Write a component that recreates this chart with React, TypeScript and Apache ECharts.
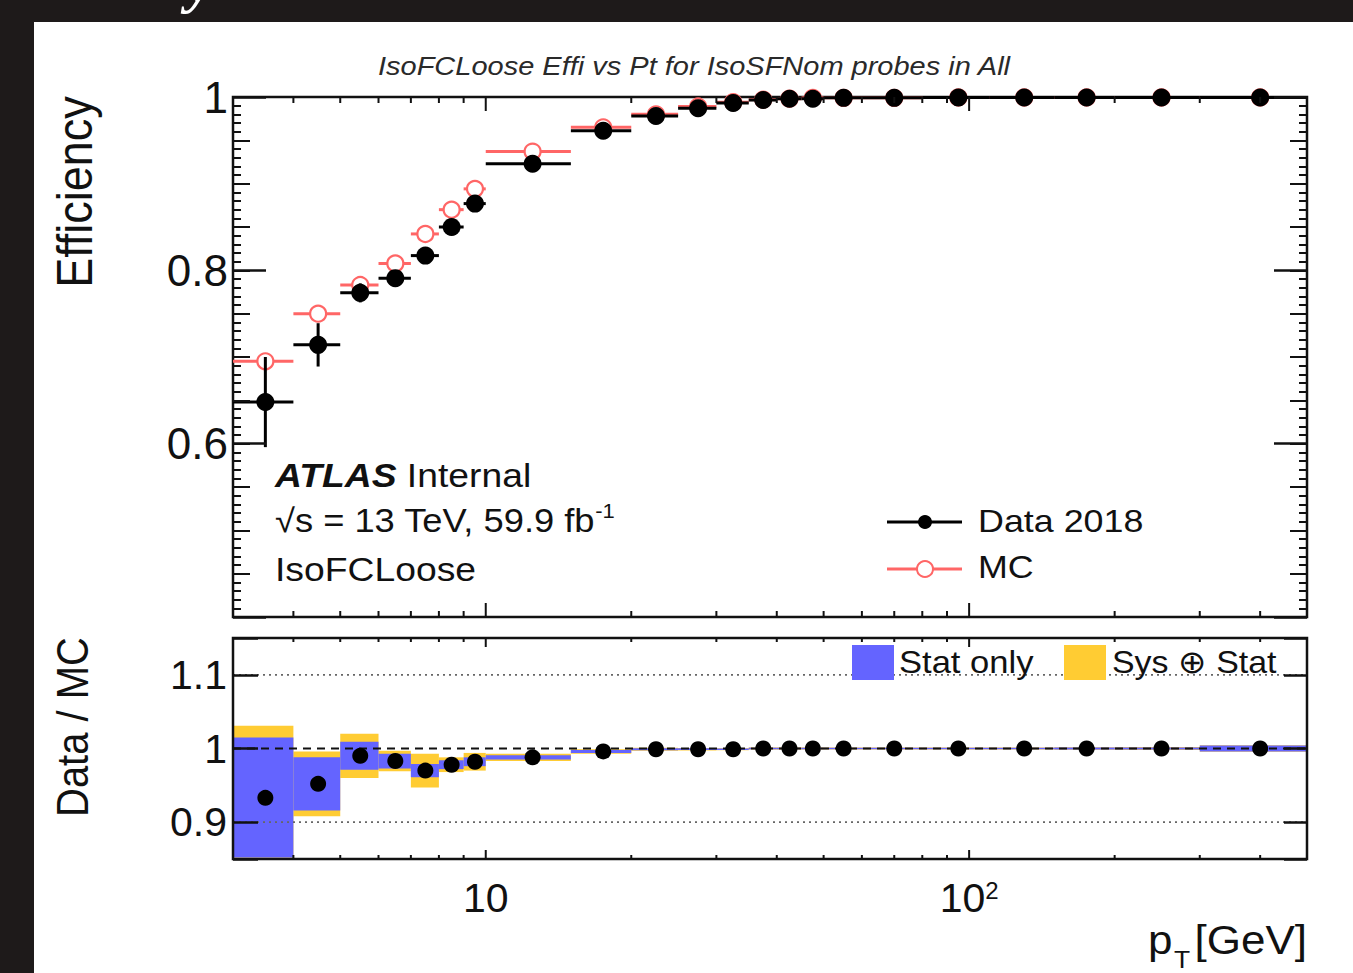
import React, { useEffect, useRef } from "react";
import * as echarts from "echarts";

const FONT = "'Liberation Sans', Arial, Helvetica, sans-serif";
const INK = "#111111";
const RED = "#ff6666";
const BLUE = "#6464ff";
const YELLOW = "#ffcc33";

// ---- data ----
const binEdges = [3, 4, 5, 6, 7, 8, 9, 10, 15, 20, 25, 30, 35, 40, 45, 50, 60, 80, 110, 150, 200, 300, 500];
const dataEff = [0.648, 0.714, 0.774, 0.791, 0.817, 0.85, 0.877, 0.923, 0.961, 0.978, 0.987, 0.993, 0.9965, 0.998, 0.998, 0.999, 0.999, 0.9995, 0.9995, 0.9995, 0.9995, 0.9995];
const dataErr = [0.052, 0.025, 0.011, 0.006, 0.005, 0.004, 0.004, 0.003, 0.002, 0.002, 0.001, 0.001, 0.001, 0.001, 0.001, 0.001, 0.001, 0.001, 0.001, 0.001, 0.001, 0.001];
const mcEff = [0.695, 0.75, 0.783, 0.808, 0.842, 0.87, 0.894, 0.937, 0.965, 0.98, 0.989, 0.994, 0.997, 0.998, 0.999, 0.999, 0.999, 0.9995, 0.9995, 0.9995, 0.9995, 0.9995];
const ratio = [0.933, 0.952, 0.99, 0.983, 0.97, 0.978, 0.982, 0.988, 0.996, 0.999, 0.999, 0.999, 1.0, 1.0, 1.0, 1.0, 1.0, 1.0, 1.0, 1.0, 1.0, 1.0];
const statErr = [0.082, 0.036, 0.019, 0.01, 0.009, 0.006, 0.006, 0.003, 0.002, 0.0015, 0.0012, 0.001, 0.001, 0.001, 0.001, 0.001, 0.001, 0.001, 0.001, 0.0012, 0.0015, 0.004];
const totErr = [0.098, 0.044, 0.03, 0.014, 0.023, 0.01, 0.012, 0.005, 0.003, 0.002, 0.0018, 0.0015, 0.0015, 0.0015, 0.0015, 0.0015, 0.0015, 0.0015, 0.0015, 0.0018, 0.002, 0.0045];
const xMajorTicks = [10, 100];
const xMinorTicks = [4, 5, 6, 7, 8, 9, 20, 30, 40, 50, 60, 70, 80, 90, 200, 300, 400];
const ratioRefLines = [0.9, 1.0, 1.1];
const topYLabels = ["1", "0.8", "0.6"];
const bottomYLabels = ["1.1", "1", "0.9"];

const X_MIN = 3;
const X_MAX = 500;
const TOP_MIN = 0.4;
const TOP_MAX = 1.0;
const BOT_MIN = 0.85;
const BOT_MAX = 1.15;

function buildOption(): any {
  const centers = binEdges.slice(0, -1).map((lo, i) => (lo + binEdges[i + 1]) / 2);
  const dataRows = dataEff.map((v, i) => [binEdges[i], binEdges[i + 1], centers[i], v, dataErr[i]]);
  const mcRows = mcEff.map((v, i) => [binEdges[i], binEdges[i + 1], centers[i], v]);
  const statRows = ratio.map((v, i) => [binEdges[i], binEdges[i + 1], v, statErr[i]]);
  const totRows = ratio.map((v, i) => [binEdges[i], binEdges[i + 1], v, totErr[i]]);
  const ratioRows = ratio.map((v, i) => [centers[i], v]);
  const tickRows = [...xMajorTicks.map((t) => [t, 1]), ...xMinorTicks.map((t) => [t, 0])];
  const refRows = ratioRefLines.map((v) => [X_MIN, v]);

  const fmtLabel = (labels: string[]) => (v: number) => {
    for (const l of labels) if (Math.abs(parseFloat(l) - v) < 1e-6) return l;
    return "";
  };

  const xBase = (g: number) => ({
    type: "log",
    logBase: 10,
    gridIndex: g,
    min: X_MIN,
    max: X_MAX,
    axisLine: { show: false },
    axisTick: { show: false },
    splitLine: { show: false },
    minorTick: { show: false },
    minorSplitLine: { show: false },
  });

  const yBase = (g: number, pos: string, min: number, max: number) => ({
    type: "value",
    gridIndex: g,
    position: pos,
    min,
    max,
    z: 10,
    axisLine: { show: false },
    splitLine: { show: false },
    axisLabel: { show: false },
  });

  const frameRender = (params: any, api: any) => {
    const cs = params.coordSys;
    return {
      type: "rect",
      shape: { x: cs.x, y: cs.y, width: cs.width, height: cs.height },
      style: { fill: "none", stroke: INK, lineWidth: 2.5 },
    };
  };

  const tickRender = (majLen: number, minLen: number) => (params: any, api: any) => {
    const cs = params.coordSys;
    const x = api.coord([api.value(0), api.value(1)])[0];
    const len = api.value(1) ? majLen : minLen;
    const yb = cs.y + cs.height;
    const yt = cs.y;
    return {
      type: "group",
      children: [
        { type: "line", shape: { x1: x, y1: yb, x2: x, y2: yb - len }, style: { stroke: INK, lineWidth: 2 } },
        { type: "line", shape: { x1: x, y1: yt, x2: x, y2: yt + len }, style: { stroke: INK, lineWidth: 2 } },
      ],
    };
  };

  const bandRender = (color: string) => (params: any, api: any) => {
    const lo = api.value(0);
    const hi = api.value(1);
    const r = api.value(2);
    const e = api.value(3);
    const top = Math.min(r + e, BOT_MAX - 0.002);
    const bot = Math.max(r - e, BOT_MIN + 0.002);
    const p1 = api.coord([lo, top]);
    const p2 = api.coord([hi, bot]);
    const h = Math.max(p2[1] - p1[1], 1.6);
    const yc = (p1[1] + p2[1]) / 2;
    return {
      type: "rect",
      shape: { x: p1[0], y: yc - h / 2, width: p2[0] - p1[0], height: h },
      style: { fill: color },
    };
  };

  const txt = (x: number, y: number, text: string, o: any = {}) => ({
    type: "text",
    x,
    y,
    z: 30,
    scaleX: o.sx ?? 1,
    scaleY: o.sy ?? 1,
    rotation: o.rot ?? 0,
    style: {
      text,
      fill: o.fill ?? INK,
      fontSize: o.size,
      fontFamily: o.family ?? FONT,
      fontStyle: o.italic ? "italic" : "normal",
      fontWeight: o.bold ? "bold" : "normal",
      align: o.align ?? "left",
      textAlign: o.align ?? "left",
      verticalAlign: o.va ?? "middle",
      textVerticalAlign: o.va ?? "middle",
      rich: o.rich,
    },
  });

  const richTok = (size: number, extra: any = {}) => ({
    fontSize: size,
    fontFamily: FONT,
    fill: INK,
    color: INK,
    ...extra,
  });

  return {
    animation: false,
    backgroundColor: "transparent",
    grid: [
      { left: 233, top: 97, width: 1074, height: 520, show: false },
      { left: 233, top: 638, width: 1074, height: 221, show: false },
    ],
    xAxis: [
      { ...xBase(0), axisLabel: { show: false } },
      {
        ...xBase(1),
        axisLabel: {
          show: true,
          margin: 19,
          formatter: (v: number) => {
            if (Math.abs(v - 10) < 1e-6) return "{b|10}";
            if (Math.abs(v - 100) < 1e-4) return "{b|10}{s|2}";
            return "";
          },
          rich: {
            b: { fontSize: 41, lineHeight: 40, fontFamily: FONT, color: INK },
            s: { fontSize: 24, lineHeight: 14, verticalAlign: "top", fontFamily: FONT, color: INK },
          },
        },
      },
    ],
    yAxis: [
      {
        ...yBase(0, "left", TOP_MIN, TOP_MAX),
        interval: 0.2,
        axisTick: { show: true, inside: true, length: 33, lineStyle: { color: INK, width: 2.5 } },
        minorTick: { show: true, splitNumber: 20, length: 8, lineStyle: { color: INK, width: 2 } },
        axisLabel: { show: true, margin: 5, fontSize: 44, fontFamily: FONT, color: INK, formatter: fmtLabel(topYLabels) },
      },
      {
        ...yBase(0, "left", TOP_MIN, TOP_MAX),
        interval: 0.05,
        axisTick: { show: true, inside: true, length: 17, lineStyle: { color: INK, width: 2 } },
      },
      {
        ...yBase(0, "right", TOP_MIN, TOP_MAX),
        interval: 0.2,
        axisTick: { show: true, inside: true, length: 33, lineStyle: { color: INK, width: 2.5 } },
        minorTick: { show: true, splitNumber: 20, length: 8, lineStyle: { color: INK, width: 2 } },
      },
      {
        ...yBase(0, "right", TOP_MIN, TOP_MAX),
        interval: 0.05,
        axisTick: { show: true, inside: true, length: 17, lineStyle: { color: INK, width: 2 } },
      },
      {
        ...yBase(1, "left", BOT_MIN, BOT_MAX),
        splitNumber: 3,
        axisTick: { show: true, inside: true, length: 25, lineStyle: { color: INK, width: 2.5 } },
        axisLabel: { show: true, margin: 6, fontSize: 41, fontFamily: FONT, color: INK, formatter: fmtLabel(bottomYLabels) },
      },
      {
        ...yBase(1, "right", BOT_MIN, BOT_MAX),
        splitNumber: 3,
        axisTick: { show: true, inside: true, length: 23, lineStyle: { color: INK, width: 2.5 } },
      },
    ],
    series: [
      // ---------- top panel ----------
      { type: "custom", name: "topFrame", xAxisIndex: 0, yAxisIndex: 0, z: 2, data: [[X_MIN, TOP_MIN]], renderItem: frameRender, silent: true },
      {
        type: "custom",
        name: "MC",
        xAxisIndex: 0,
        yAxisIndex: 0,
        z: 3,
        data: mcRows,
        renderItem: (params: any, api: any) => {
          const lo = api.value(0), hi = api.value(1), c = api.value(2), v = api.value(3);
          const pl = api.coord([lo, v]), pr = api.coord([hi, v]), pc = api.coord([c, v]);
          return {
            type: "group",
            children: [
              { type: "line", shape: { x1: pl[0], y1: pl[1], x2: pr[0], y2: pr[1] }, style: { stroke: RED, lineWidth: 3 } },
              { type: "circle", shape: { cx: pc[0], cy: pc[1], r: 8 }, style: { fill: "#ffffff", stroke: RED, lineWidth: 2.2 } },
            ],
          };
        },
      },
      {
        type: "custom",
        name: "Data 2018",
        xAxisIndex: 0,
        yAxisIndex: 0,
        z: 4,
        data: dataRows,
        renderItem: (params: any, api: any) => {
          const lo = api.value(0), hi = api.value(1), c = api.value(2), v = api.value(3), e = api.value(4);
          const pl = api.coord([lo, v]), pr = api.coord([hi, v]), pc = api.coord([c, v]);
          const pt = api.coord([c, v + e]), pb = api.coord([c, v - e]);
          return {
            type: "group",
            children: [
              { type: "line", shape: { x1: pl[0], y1: pl[1], x2: pr[0], y2: pr[1] }, style: { stroke: "#000", lineWidth: 3 } },
              { type: "line", shape: { x1: pc[0], y1: pt[1], x2: pc[0], y2: pb[1] }, style: { stroke: "#000", lineWidth: 3 } },
              { type: "circle", shape: { cx: pc[0], cy: pc[1], r: 9 }, style: { fill: "#000" } },
            ],
          };
        },
      },
      { type: "custom", name: "topTicks", xAxisIndex: 0, yAxisIndex: 0, z: 6, data: tickRows, renderItem: tickRender(14, 6), silent: true },
      // ---------- ratio panel ----------
      { type: "custom", name: "Sys ⊕ Stat", xAxisIndex: 1, yAxisIndex: 4, z: 2, data: totRows, renderItem: bandRender(YELLOW) },
      { type: "custom", name: "Stat only", xAxisIndex: 1, yAxisIndex: 4, z: 2, data: statRows, renderItem: bandRender(BLUE) },
      {
        type: "custom",
        name: "refLines",
        xAxisIndex: 1,
        yAxisIndex: 4,
        z: 3,
        silent: true,
        data: refRows,
        renderItem: (params: any, api: any) => {
          const cs = params.coordSys;
          const v = api.value(1);
          const y = api.coord([X_MIN, v])[1];
          const unity = Math.abs(v - 1) < 1e-6;
          return {
            type: "line",
            shape: { x1: cs.x, y1: y, x2: cs.x + cs.width, y2: y },
            style: unity
              ? { stroke: "#111", lineWidth: 2, lineDash: [8, 6] }
              : { stroke: "#666", lineWidth: 1.6, lineDash: [2, 4] },
          };
        },
      },
      { type: "custom", name: "bottomFrame", xAxisIndex: 1, yAxisIndex: 4, z: 4, data: [[X_MIN, 1]], renderItem: frameRender, silent: true },
      {
        type: "custom",
        name: "Data / MC",
        xAxisIndex: 1,
        yAxisIndex: 4,
        z: 5,
        data: ratioRows,
        renderItem: (params: any, api: any) => {
          const p = api.coord([api.value(0), api.value(1)]);
          return { type: "circle", shape: { cx: p[0], cy: p[1], r: 8 }, style: { fill: "#000" } };
        },
      },
      { type: "custom", name: "bottomTicks", xAxisIndex: 1, yAxisIndex: 4, z: 6, data: tickRows, renderItem: tickRender(9, 4), silent: true },
    ],
    graphic: [
      // fragment of slide title above the plot
      txt(200, 11, "y", { size: 60, fill: "#ffffff", italic: true, bold: true, family: "'Liberation Serif', serif", align: "center", va: "bottom" }),
      // title
      txt(694, 66, "IsoFCLoose Effi vs Pt for IsoSFNom probes in All", { size: 25, italic: true, align: "center", sx: 1.16, fill: "#2a2a2a" }),
      // axis titles
      txt(75, 192, "Efficiency", { size: 45, rot: Math.PI / 2, align: "center", sy: 1.12 }),
      txt(73, 727, "Data / MC", { size: 40, rot: Math.PI / 2, align: "center", sy: 1.12 }),
      txt(1148, 940, "p", { size: 40, sx: 1.1 }),
      txt(1174, 959, "T", { size: 24, sx: 1.1 }),
      txt(1307, 940, "[GeV]", { size: 40, sx: 1.1, align: "right" }),
      // ATLAS label
      txt(275, 475, "{a|ATLAS}{b| Internal}", {
        size: 33,
        sx: 1.13,
        rich: { a: richTok(33, { fontWeight: "bold", fontStyle: "italic" }), b: richTok(33) },
      }),
      txt(275, 521, "{n|√s = 13 TeV, 59.9 fb}{s|-1}", {
        size: 33,
        sx: 1.1,
        rich: { n: richTok(33, { lineHeight: 40 }), s: richTok(20, { lineHeight: 16, verticalAlign: "top" }) },
      }),
      txt(275, 569, "IsoFCLoose", { size: 33, sx: 1.13 }),
      // top legend
      { type: "line", z: 30, shape: { x1: 887, y1: 522, x2: 962, y2: 522 }, style: { stroke: "#000", lineWidth: 3 } },
      { type: "circle", z: 31, shape: { cx: 925, cy: 522, r: 7 }, style: { fill: "#000" } },
      txt(978, 521, "Data 2018", { size: 32, sx: 1.12 }),
      { type: "line", z: 30, shape: { x1: 887, y1: 569, x2: 962, y2: 569 }, style: { stroke: RED, lineWidth: 3 } },
      { type: "circle", z: 31, shape: { cx: 925, cy: 569, r: 8 }, style: { fill: "#fff", stroke: RED, lineWidth: 2 } },
      txt(978, 567, "MC", { size: 32, sx: 1.12 }),
      // ratio legend
      { type: "rect", z: 30, shape: { x: 852, y: 645, width: 42, height: 35 }, style: { fill: BLUE } },
      txt(899, 662, "Stat only", { size: 32, sx: 1.08 }),
      { type: "rect", z: 30, shape: { x: 1064, y: 645, width: 42, height: 35 }, style: { fill: YELLOW } },
      txt(1112, 662, "Sys ⊕ Stat", { size: 32, sx: 1.06 }),
    ],
  };
}

export default function App() {
  const ref = useRef<HTMLDivElement>(null);
  useEffect(() => {
    if (!ref.current) return;
    const chart = echarts.init(ref.current, undefined, { renderer: "svg" });
    chart.setOption(buildOption());
    return () => chart.dispose();
  }, []);
  return (
    <div style={{ position: "fixed", left: 0, top: 0, width: 1353, height: 973, background: "#1e1a1a", overflow: "hidden" }}>
      <div style={{ position: "absolute", left: 34, top: 22, width: 1319, height: 951, background: "#ffffff" }} />
      <div ref={ref} style={{ position: "absolute", left: 0, top: 0, width: 1353, height: 973 }} />
    </div>
  );
}
